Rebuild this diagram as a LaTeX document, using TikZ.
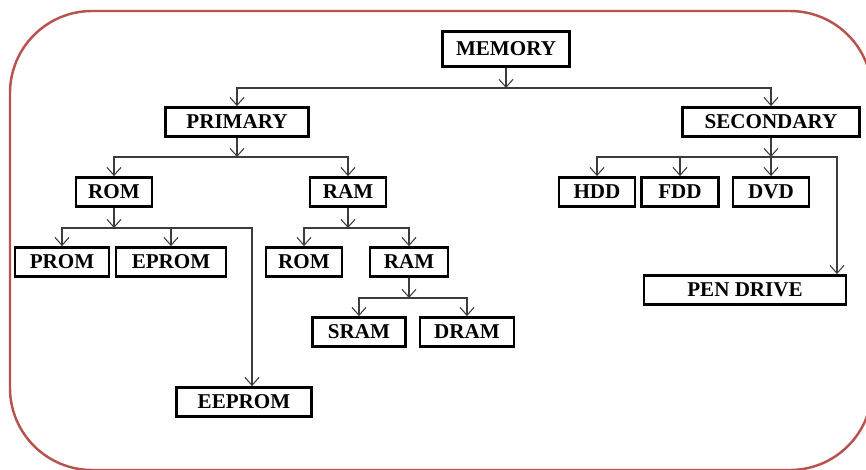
\documentclass[tikz,border=0pt]{standalone}
\usepackage{fontspec}
\setmainfont{Liberation Serif}
\usetikzlibrary{arrows.meta}
\definecolor{framered}{RGB}{185,82,76}
\definecolor{linkgray}{RGB}{60,60,60}
\tikzset{box/.style={draw=black, line width=1.6pt, fill=white, inner sep=0pt,
      minimum height=0.58cm, font=\fontsize{12}{14}\selectfont\bfseries}}
\tikzset{link/.style={draw=linkgray, line width=0.6pt,
      -{Straight Barb[length=4.5pt,width=8pt]}}}

\begin{document}
\begin{tikzpicture}[x=0.02cm,y=-0.02cm]
    \useasboundingbox (0,0) rectangle (866,470);
    \draw[framered, line width=1.4pt, rounded corners=1.64cm] (10,11) rectangle (872,470);
    % boxes
    \node[box, minimum width=2.54cm, minimum height=0.7cm] (memory) at (506,49) {MEMORY};
    \node[box, minimum width=2.86cm] (primary) at (237,122) {PRIMARY};
    \node[box, minimum width=3.54cm] (secondary) at (771,122) {SECONDARY};
    \node[box, minimum width=1.52cm] (rom) at (114,192) {ROM};
    \node[box, minimum width=1.52cm] (ram) at (348,192) {RAM};
    \node[box, minimum width=1.88cm] (prom) at (62,262) {PROM};
    \node[box, minimum width=2.2cm] (eprom) at (171,262) {EPROM};
    \node[box, minimum width=2.7cm] (eeprom) at (244,402) {EEPROM};
    \node[box, minimum width=1.52cm] (romb) at (304,262) {ROM};
    \node[box, minimum width=1.56cm] (ramb) at (409,262) {RAM};
    \node[box, minimum width=1.86cm] (sram) at (359,332) {SRAM};
    \node[box, minimum width=1.88cm] (dram) at (467,332) {DRAM};
    \node[box, minimum width=1.52cm] (hdd) at (597,192) {HDD};
    \node[box, minimum width=1.54cm] (fdd) at (680,192) {FDD};
    \node[box, minimum width=1.52cm] (dvd) at (771,192) {DVD};
    \node[box, minimum width=4.04cm] (pen) at (745,290) {PEN DRIVE};
    % junctions
    \coordinate (mbar) at (memory |- 0,88);
    \coordinate (pbar) at (primary |- 0,157);
    \coordinate (sbar) at (secondary |- 0,157);
    \coordinate (rombar) at (rom |- 0,228);
    \coordinate (rambar) at (ram |- 0,228);
    \coordinate (rambbar) at (ramb |- 0,298);
    % connectors
    \draw[link] (memory) -- (mbar);
    \draw[link] (mbar) -| (primary);
    \draw[link] (mbar) -| (secondary);
    \draw[link] (primary) -- (pbar);
    \draw[link] (pbar) -| (rom);
    \draw[link] (pbar) -| (ram);
    \draw[link] (rom) -- (rombar);
    \draw[link] (rombar) -| (prom);
    \draw[link] (rombar) -| (eprom);
    \draw[link] (rombar) -| ([xshift=0.16cm]eeprom.north);
    \draw[link] (ram) -- (rambar);
    \draw[link] (rambar) -| (romb);
    \draw[link] (rambar) -| (ramb);
    \draw[link] (ramb) -- (rambbar);
    \draw[link] (rambbar) -| (sram);
    \draw[link] (rambbar) -| (dram);
    \draw[link] (secondary) -- (sbar);
    \draw[link] (sbar) -| (hdd);
    \draw[link] (sbar) -| (fdd);
    \draw[link] (sbar) -- (dvd);
    \draw[link] (sbar) -| ([xshift=1.84cm]pen.north);
\end{tikzpicture}
\end{document}
